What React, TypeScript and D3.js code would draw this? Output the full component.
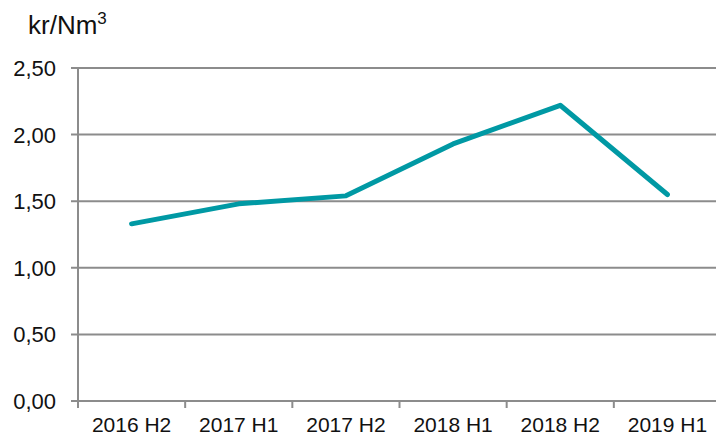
import React, { useEffect, useRef } from 'react';
import * as d3 from 'd3';

const width = 716;
const height = 436;
const margin = { top: 68, right: -5, bottom: 35, left: 78 };

const categories = ['2016 H2', '2017 H1', '2017 H2', '2018 H1', '2018 H2', '2019 H1'];
const prices = [1.33, 1.48, 1.54, 1.93, 2.22, 1.55];
const yTicks = [0, 0.5, 1, 1.5, 2, 2.5];

const lineColor = '#0099a4';
const gridColor = '#8c8c8c';
const font = 'Liberation Sans, Arial, sans-serif';

function App() {
  const ref = useRef<SVGSVGElement>(null);

  useEffect(() => {
    const svg = d3.select(ref.current);
    svg.selectAll('*').remove();

    const x = d3
      .scaleBand()
      .domain(categories)
      .range([margin.left, width - margin.right]);

    const y = d3
      .scaleLinear()
      .domain([0, 2.5])
      .range([height - margin.bottom, margin.top]);

    const fmt = (v: number) => d3.format('.2f')(v).replace('.', ',');

    // gridlines
    svg
      .append('g')
      .selectAll('line')
      .data(yTicks)
      .enter()
      .append('line')
      .attr('x1', margin.left - 7)
      .attr('x2', width - margin.right)
      .attr('y1', (d) => y(d))
      .attr('y2', (d) => y(d))
      .attr('stroke', gridColor)
      .attr('stroke-width', 2);

    // y labels
    svg
      .append('g')
      .selectAll('text')
      .data(yTicks)
      .enter()
      .append('text')
      .attr('x', 56)
      .attr('y', (d) => y(d) + 8)
      .attr('text-anchor', 'end')
      .attr('font-family', font)
      .attr('font-size', 22)
      .attr('fill', '#111')
      .text((d) => fmt(d));

    // y axis line
    svg
      .append('line')
      .attr('x1', margin.left)
      .attr('x2', margin.left)
      .attr('y1', y(2.5))
      .attr('y2', y(0) + 7)
      .attr('stroke', gridColor)
      .attr('stroke-width', 2);

    // x ticks between categories
    svg
      .append('g')
      .selectAll('line')
      .data(categories.slice(1))
      .enter()
      .append('line')
      .attr('x1', (d) => x(d)!)
      .attr('x2', (d) => x(d)!)
      .attr('y1', y(0))
      .attr('y2', y(0) + 7)
      .attr('stroke', gridColor)
      .attr('stroke-width', 2);

    // x labels
    svg
      .append('g')
      .selectAll('text')
      .data(categories)
      .enter()
      .append('text')
      .attr('x', (d) => x(d)! + x.bandwidth() / 2)
      .attr('y', y(0) + 31)
      .attr('text-anchor', 'middle')
      .attr('font-family', font)
      .attr('font-size', 21)
      .attr('fill', '#111')
      .text((d) => d);

    // unit label
    const unit = svg
      .append('text')
      .attr('x', 28)
      .attr('y', 34)
      .attr('font-family', font)
      .attr('font-size', 26)
      .attr('fill', '#111');
    unit.append('tspan').text('kr/Nm');
    unit.append('tspan').attr('font-size', 17).attr('dy', -10).text('3');

    // line
    const line = d3
      .line<number>()
      .x((_, i) => x(categories[i])! + x.bandwidth() / 2)
      .y((d) => y(d));

    svg
      .append('path')
      .datum(prices)
      .attr('d', line)
      .attr('fill', 'none')
      .attr('stroke', lineColor)
      .attr('stroke-width', 5)
      .attr('stroke-linecap', 'round')
      .attr('stroke-linejoin', 'round');
  }, []);

  return (
    <svg
      ref={ref}
      width={width}
      height={height}
      style={{ position: 'absolute', left: 0, top: 0, background: '#fff' }}
    />
  );
}

export default App;
